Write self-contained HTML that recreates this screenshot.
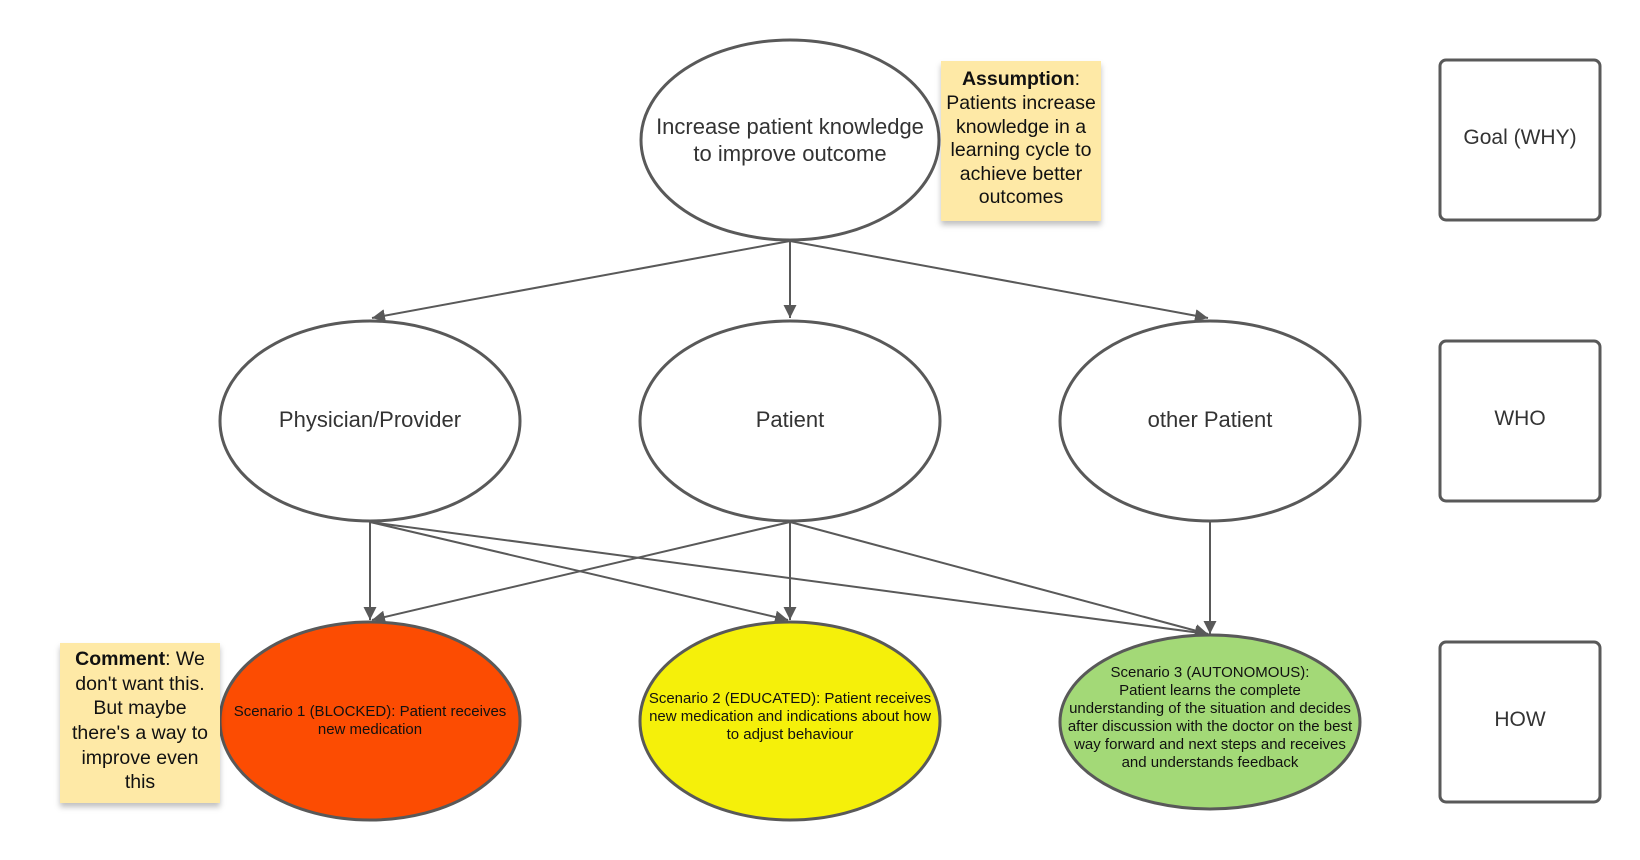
<!DOCTYPE html>
<html><head><meta charset="utf-8"><style>
html,body{margin:0;padding:0;background:#fff;}
svg{display:block;font-family:"Liberation Sans",sans-serif;}
</style></head><body>
<svg width="1640" height="860" viewBox="0 0 1640 860">
<defs>
<marker id="a" markerWidth="16" markerHeight="16" refX="13" refY="6.5" orient="auto" markerUnits="userSpaceOnUse">
<path d="M0,0 L13,6.5 L0,13 Z" fill="#595959"/></marker>
<filter id="sh" x="-10%" y="-10%" width="130%" height="130%"><feDropShadow dx="0" dy="4" stdDeviation="3" flood-color="#000" flood-opacity="0.25"/></filter>
</defs>
<g stroke="#595959" stroke-width="2" fill="none" marker-end="url(#a)">
<line x1="790" y1="241" x2="372" y2="318"/>
<line x1="790" y1="241" x2="790" y2="318"/>
<line x1="790" y1="241" x2="1208" y2="318"/>
<line x1="370" y1="522" x2="370" y2="620"/>
<line x1="370" y1="522" x2="788" y2="620"/>
<line x1="370" y1="522" x2="1208" y2="634"/>
<line x1="790" y1="522" x2="372" y2="620"/>
<line x1="790" y1="522" x2="790" y2="620"/>
<line x1="790" y1="522" x2="1208" y2="634"/>
<line x1="1210" y1="522" x2="1210" y2="634"/>
</g>
<g stroke="#595959" stroke-width="3">
<ellipse cx="790" cy="140" rx="149" ry="100" fill="#fff"/>
<ellipse cx="370" cy="421" rx="150" ry="100" fill="#fff"/>
<ellipse cx="790" cy="421" rx="150" ry="100" fill="#fff"/>
<ellipse cx="1210" cy="421" rx="150" ry="100" fill="#fff"/>
<ellipse cx="370" cy="721" rx="150" ry="99" fill="#fc4c02"/>
<ellipse cx="790" cy="721" rx="150" ry="99" fill="#f5f00a"/>
<ellipse cx="1210" cy="722" rx="150" ry="87" fill="#a3d977"/>
<rect x="1440" y="60" width="160" height="160" rx="6" fill="#fff"/>
<rect x="1440" y="341" width="160" height="160" rx="6" fill="#fff"/>
<rect x="1440" y="642" width="160" height="160" rx="6" fill="#fff"/>
</g>
<g fill="#333" font-size="22" text-anchor="middle">
<text x="790" y="134">Increase patient knowledge</text>
<text x="790" y="161">to improve outcome</text>
<text x="370" y="427">Physician/Provider</text>
<text x="790" y="427">Patient</text>
<text x="1210" y="427">other Patient</text>
<text x="1520" y="144" font-size="21">Goal (WHY)</text>
<text x="1520" y="425" font-size="21">WHO</text>
<text x="1520" y="726" font-size="21">HOW</text>
</g>
<g fill="#111" font-size="15" text-anchor="middle">
<text x="370" y="716">Scenario 1 (BLOCKED): Patient receives</text>
<text x="370" y="734">new medication</text>
<text x="790" y="703">Scenario 2 (EDUCATED): Patient receives</text>
<text x="790" y="721">new medication and indications about how</text>
<text x="790" y="739">to adjust behaviour</text>
<text x="1210" y="677">Scenario 3 (AUTONOMOUS):</text>
<text x="1210" y="695">Patient learns the complete</text>
<text x="1210" y="713">understanding of the situation and decides</text>
<text x="1210" y="731">after discussion with the doctor on the best</text>
<text x="1210" y="749">way forward and next steps and receives</text>
<text x="1210" y="767">and understands feedback</text>
</g>
<rect x="941" y="61" width="160" height="160" fill="#fee9a6" filter="url(#sh)"/>
<rect x="60" y="643" width="160" height="160" fill="#fee9a6" filter="url(#sh)"/>
<g fill="#111" font-size="19.5" text-anchor="middle">
<text x="1021" y="85"><tspan font-weight="bold">Assumption</tspan>:</text>
<text x="1021" y="109">Patients increase</text>
<text x="1021" y="133">knowledge in a</text>
<text x="1021" y="156">learning cycle to</text>
<text x="1021" y="180">achieve better</text>
<text x="1021" y="203">outcomes</text>
<text x="140" y="665"><tspan font-weight="bold">Comment</tspan>: We</text>
<text x="140" y="690">don't want this.</text>
<text x="140" y="714">But maybe</text>
<text x="140" y="739">there's a way to</text>
<text x="140" y="764">improve even</text>
<text x="140" y="788">this</text>
</g>
</svg>
</body></html>
